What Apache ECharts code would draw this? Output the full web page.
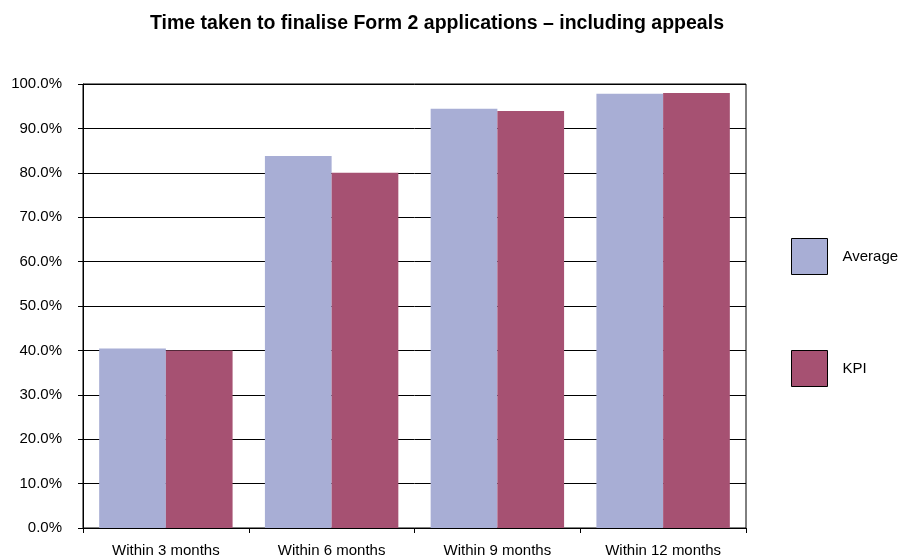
<!DOCTYPE html>
<html>
<head>
<meta charset="utf-8">
<script src="https://cdn.jsdelivr.net/npm/echarts@6/dist/echarts.min.js"></script>
<style>
  html, body { margin: 0; padding: 0; background: #fff; }
  #chart { width: 905px; height: 558px; }
</style>
</head>
<body>
<div id="chart"></div>
<script>
// Share of Form 2 applications finalised within each period (percent)
const categories = ['Within 3 months', 'Within 6 months', 'Within 9 months', 'Within 12 months'];
const averageValues = [40.4, 83.8, 94.4, 97.8];
const kpiValues = [40.0, 80.0, 93.9, 98.0];
const yTicks = { min: 0, max: 100, interval: 10 };

const FONT = '"Liberation Sans", Arial, sans-serif';

const chart = echarts.init(document.getElementById('chart'), null, { renderer: 'canvas' });

chart.setOption({
  animation: false,
  backgroundColor: '#ffffff',
  title: {
    text: 'Time taken to finalise Form 2 applications \u2013 including appeals',
    left: 437,
    textAlign: 'center',
    top: 14,
    padding: 0,
    textStyle: { fontFamily: FONT, fontSize: 19.5, fontWeight: 'bold', color: '#000' }
  },
  legend: {
    orient: 'vertical',
    left: 791,
    top: 238,
    padding: 0,
    itemWidth: 36,
    itemHeight: 36,
    itemGap: 75,
    icon: 'rect',
    itemStyle: { borderColor: '#000', borderWidth: 1 },
    textStyle: { fontFamily: FONT, fontSize: 15, color: '#000', padding: [0, 0, 0, 10] },
    data: ['Average', 'KPI']
  },
  grid: {
    left: 83,
    top: 84,
    right: 159,
    bottom: 29,
    show: true,
    borderColor: '#000',
    borderWidth: 1,
    backgroundColor: 'transparent'
  },
  xAxis: {
    type: 'category',
    data: categories,
    axisLine: { show: true, lineStyle: { color: '#000', width: 1 } },
    axisTick: { show: true, length: 5, lineStyle: { color: '#000' } },
    axisLabel: { fontFamily: FONT, fontSize: 15, color: '#000', margin: 15 },
    splitLine: { show: false }
  },
  yAxis: {
    type: 'value',
    min: yTicks.min,
    max: yTicks.max,
    interval: yTicks.interval,
    axisLine: { show: true, lineStyle: { color: '#000', width: 1 } },
    axisTick: { show: true, length: 5, lineStyle: { color: '#000' } },
    axisLabel: {
      fontFamily: FONT, fontSize: 15, color: '#000', margin: 21,
      formatter: v => v.toFixed(1) + '%'
    },
    splitLine: { show: true, lineStyle: { color: '#000', width: 1 } }
  },
  series: [
    {
      name: 'Average',
      type: 'bar',
      data: averageValues,
      barGap: '0%',
      barCategoryGap: '19.5%',
      itemStyle: { color: '#A8AED5' },
      z: 3
    },
    {
      name: 'KPI',
      type: 'bar',
      data: kpiValues,
      itemStyle: { color: '#A65172' },
      z: 3
    }
  ]
});
</script>
</body>
</html>
